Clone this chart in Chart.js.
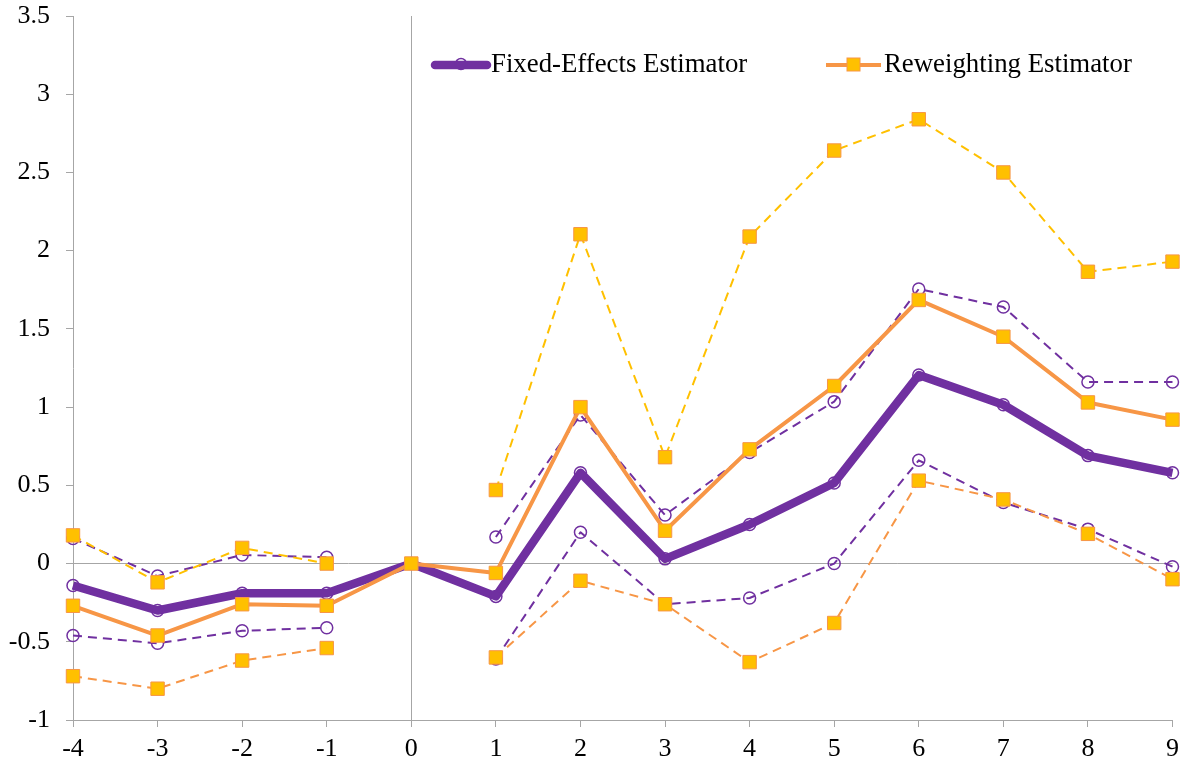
<!DOCTYPE html>
<html>
<head>
<meta charset="utf-8">
<script src="https://cdn.jsdelivr.net/npm/chart.js@4/dist/chart.umd.min.js"></script>
<style>
  html, body { margin: 0; padding: 0; background: #fff; }
  #wrap { width: 1183px; height: 765px; position: relative; }
</style>
</head>
<body>
<div id="wrap"><canvas id="c"></canvas></div>
<script>
// Event time relative to treatment
const categories = ['-4','-3','-2','-1','0','1','2','3','4','5','6','7','8','9'];

// Fixed-effects estimator: point estimate and confidence bounds
const feEstimate = [-0.14, -0.30, -0.19, -0.19, 0, -0.21, 0.58, 0.03, 0.25, 0.515, 1.205, 1.015, 0.69, 0.58];
const feUpper    = [0.16, -0.08, 0.055, 0.04, null, 0.17, 0.95, 0.31, 0.71, 1.035, 1.755, 1.64, 1.16, 1.16];
const feLower    = [-0.46, -0.51, -0.43, -0.41, null, -0.61, 0.20, -0.26, -0.22, 0.00, 0.66, 0.39, 0.22, -0.02];

// Reweighting estimator: point estimate and confidence bounds
const rwEstimate = [-0.27, -0.46, -0.26, -0.27, 0, -0.06, 1.00, 0.21, 0.73, 1.135, 1.685, 1.45, 1.03, 0.92];
const rwUpper    = [0.18, -0.12, 0.10, 0.00, null, 0.47, 2.105, 0.68, 2.09, 2.64, 2.84, 2.50, 1.865, 1.93];
const rwLower    = [-0.72, -0.80, -0.62, -0.54, null, -0.60, -0.11, -0.26, -0.63, -0.38, 0.53, 0.41, 0.19, -0.10];

// Value axis ticks
const yMin = -1, yMax = 3.5, yStep = 0.5;

const PURPLE = '#7030A0';
const ORANGE = '#F79646';
const GOLD = '#FFC000';
const AXIS = '#A6A6A6';
const FONT = '"Liberation Serif", "Times New Roman", serif';

const circleStyle = {
  pointStyle: 'circle', pointRadius: 6, pointHoverRadius: 6,
  pointBackgroundColor: 'rgba(0,0,0,0)', pointBorderColor: PURPLE, pointBorderWidth: 1.5
};
const squareStyle = {
  pointStyle: 'rect', pointRadius: 9.5, pointHoverRadius: 9.5,
  pointBackgroundColor: GOLD, pointBorderColor: ORANGE, pointBorderWidth: 1
};

// In-plot legend drawn at the top of the plot area
const legendPlugin = {
  id: 'insetLegend',
  afterDraw(chart) {
    const ctx = chart.ctx;
    const y = 65;
    ctx.save();
    ctx.lineCap = 'round';
    // Fixed-effects entry
    ctx.strokeStyle = PURPLE; ctx.lineWidth = 8.5;
    ctx.beginPath(); ctx.moveTo(435, y); ctx.lineTo(487, y); ctx.stroke();
    ctx.fillStyle = '#fff'; ctx.strokeStyle = PURPLE; ctx.lineWidth = 1.5;
    ctx.beginPath(); ctx.arc(461, y - 1, 5.5, 0, Math.PI * 2); ctx.stroke();
    // Reweighting entry
    ctx.lineCap = 'butt';
    ctx.strokeStyle = ORANGE; ctx.lineWidth = 4;
    ctx.beginPath(); ctx.moveTo(826, y); ctx.lineTo(881, y); ctx.stroke();
    ctx.fillStyle = GOLD; ctx.strokeStyle = ORANGE; ctx.lineWidth = 1;
    ctx.fillRect(847, y - 7, 13, 13); ctx.strokeRect(847, y - 7, 13, 13);
    // Labels
    ctx.fillStyle = '#000';
    ctx.font = '26.8px ' + FONT;
    ctx.textBaseline = 'middle';
    ctx.textAlign = 'left';
    ctx.fillText(chart.data.datasets[2].label, 491, y);
    ctx.fillText(chart.data.datasets[3].label, 884, y);
    ctx.restore();
  }
};

new Chart(document.getElementById('c'), {
  type: 'line',
  data: {
    labels: categories,
    datasets: [
      Object.assign({ label: 'FE upper', data: feUpper, borderColor: PURPLE, borderWidth: 2, borderDash: [9, 6], order: 6 }, circleStyle),
      Object.assign({ label: 'FE lower', data: feLower, borderColor: PURPLE, borderWidth: 2, borderDash: [9, 6], order: 5 }, circleStyle),
      Object.assign({ label: 'Fixed-Effects Estimator', data: feEstimate, borderColor: PURPLE, borderWidth: 8.5, order: 4 }, circleStyle),
      Object.assign({ label: 'Reweighting Estimator', data: rwEstimate, borderColor: ORANGE, borderWidth: 4, order: 3 }, squareStyle),
      Object.assign({ label: 'RW upper', data: rwUpper, borderColor: GOLD, borderWidth: 2, borderDash: [9, 6], order: 2 }, squareStyle),
      Object.assign({ label: 'RW lower', data: rwLower, borderColor: ORANGE, borderWidth: 2, borderDash: [9, 6], order: 1 }, squareStyle)
    ]
  },
  options: {
    responsive: true,
    maintainAspectRatio: false,
    animation: false,
    spanGaps: false,
    layout: { padding: { left: 0, right: 10, top: 16, bottom: 0 } },
    plugins: { legend: { display: false }, tooltip: { enabled: false } },
    elements: { line: { tension: 0, borderJoinStyle: 'round' } },
    scales: {
      x: {
        offset: false,
        afterFit(scale) { scale.height = 45; scale.paddingLeft = 0; scale.paddingRight = 0; },
        border: { display: true, color: AXIS, width: 1 },
        grid: {
          drawOnChartArea: true,
          color: (c) => (c.tick && c.tick.value === 4 ? AXIS : 'rgba(0,0,0,0)'),
          tickColor: AXIS,
          tickLength: 7
        },
        ticks: { color: '#000', font: { family: FONT, size: 26 }, padding: 7, maxRotation: 0, autoSkip: false }
      },
      y: {
        min: yMin, max: yMax,
        afterFit(scale) { scale.width = 73; scale.paddingTop = 0; scale.paddingBottom = 0; },
        border: { display: true, color: AXIS, width: 1 },
        grid: {
          color: (c) => (c.tick && c.tick.value === 0 ? AXIS : 'rgba(0,0,0,0)'),
          tickColor: AXIS,
          tickLength: 7
        },
        ticks: {
          stepSize: yStep, color: '#000', font: { family: FONT, size: 26 }, padding: 16,
          callback: (v) => String(Math.round(v * 10) / 10)
        }
      }
    }
  },
  plugins: [legendPlugin]
});
</script>
</body>
</html>
